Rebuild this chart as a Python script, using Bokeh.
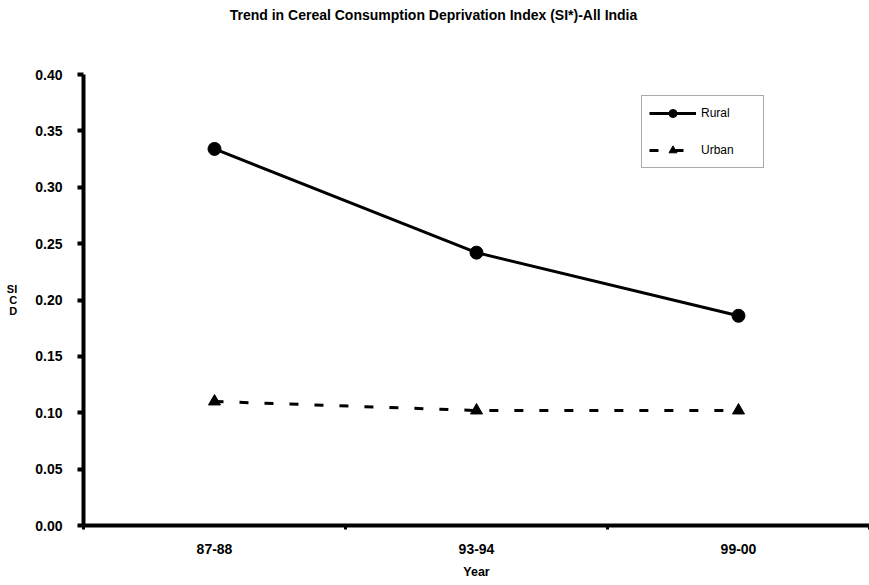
from bokeh.plotting import figure
from bokeh.layouts import column
from bokeh.models import (FixedTicker, Range1d, Legend, LegendItem, ColumnDataSource, Label)
from bokeh.embed import file_html
from bokeh.resources import INLINE

categories = ["87-88", "93-94", "99-00"]
rural = [0.334, 0.242, 0.186]
urban = [0.110, 0.102, 0.102]
y_ticks = [0.00, 0.05, 0.10, 0.15, 0.20, 0.25, 0.30, 0.35, 0.40]
title_text = "Trend in Cereal Consumption Deprivation Index (SI*)-All India"

x_pos = [i + 0.5 for i in range(len(categories))]
FONT = "Liberation Sans"
TOP_H = 64

# title strip (its frame is aligned with the main plot's frame: 83..869 px)
t = figure(width=869, height=TOP_H, output_backend="svg", toolbar_location=None,
           x_range=Range1d(83, 869), y_range=Range1d(0, TOP_H),
           min_border_left=83, min_border_right=0, min_border_top=0, min_border_bottom=0)
t.title = None
t.axis.visible = False
t.grid.visible = False
t.outline_line_color = None
t.add_layout(Label(x=433, y=TOP_H - 14, text=title_text, text_font=FONT,
                   text_font_style="bold", text_font_size="14px", text_color="black",
                   text_align="center", text_baseline="middle"))

p = figure(width=869, height=585 - TOP_H, output_backend="svg", toolbar_location=None,
           x_range=Range1d(0, 3), y_range=Range1d(0, 0.40),
           min_border_left=83, min_border_right=0, min_border_top=74 - TOP_H, min_border_bottom=60)
p.title = None
p.outline_line_color = None
p.xgrid.visible = False
p.ygrid.visible = False

src_r = ColumnDataSource(dict(x=x_pos, y=rural))
src_u = ColumnDataSource(dict(x=x_pos, y=urban))
lr = p.line("x", "y", source=src_r, line_color="black", line_width=3)
cr = p.scatter("x", "y", source=src_r, marker="circle", size=13, fill_color="black", line_color="black")
lu = p.line("x", "y", source=src_u, line_color="black", line_width=3, line_dash="9 16")
tu = p.scatter("x", "y", source=src_u, marker="triangle", size=12, fill_color="black", line_color="black")

# axes
xa = p.xaxis[0]
xa.ticker = FixedTicker(ticks=x_pos, minor_ticks=[0, 1, 2, 3])
xa.major_label_overrides = {x: c for x, c in zip(x_pos, categories)}
xa.major_tick_line_color = None
xa.minor_tick_line_color = "black"
xa.minor_tick_line_width = 3
xa.minor_tick_out = 4
xa.minor_tick_in = 0
xa.axis_line_width = 4
xa.axis_line_color = "black"
xa.major_label_text_font = FONT
xa.major_label_text_font_style = "bold"
xa.major_label_text_font_size = "14px"
xa.major_label_text_color = "black"
xa.major_label_standoff = 12
xa.axis_label = "Year"
xa.axis_label_text_font = FONT
xa.axis_label_text_font_style = "bold"
xa.axis_label_text_font_size = "12.5px"
xa.axis_label_text_color = "black"
xa.axis_label_standoff = 8

ya = p.yaxis[0]
ya.ticker = FixedTicker(ticks=y_ticks, minor_ticks=[])
ya.major_label_overrides = {t_: f"{t_:.2f}" for t_ in y_ticks}
ya.axis_line_width = 4
ya.axis_line_color = "black"
ya.major_tick_line_width = 4
ya.major_tick_line_color = "black"
ya.major_tick_out = 6
ya.major_tick_in = 0
ya.major_label_text_font = FONT
ya.major_label_text_font_style = "bold"
ya.major_label_text_font_size = "14px"
ya.major_label_text_color = "black"
ya.major_label_standoff = 15
ya.axis_label = "SI\nC\nD"
ya.axis_label_text_font = FONT
ya.axis_label_text_font_style = "bold"
ya.axis_label_text_font_size = "11px"
ya.axis_label_text_color = "black"
ya.axis_label_text_line_height = 0.9
ya.axis_label_standoff = 15
if "axis_label_orientation" in ya.properties():
    ya.axis_label_orientation = "horizontal"

legend = Legend(items=[LegendItem(label="Rural", renderers=[lr, cr]),
                       LegendItem(label="Urban", renderers=[lu, tu])],
                location=(558, 357))
legend.border_line_color = "#555555"
legend.border_line_width = 1
legend.label_text_font = FONT
legend.label_text_font_size = "12px"
legend.label_text_color = "black"
legend.glyph_width = 47
legend.glyph_height = 20
legend.label_width = 55
legend.spacing = 17
legend.padding = 7
legend.margin = 0
legend.label_standoff = 5
p.add_layout(legend)

layout = column(t, p, spacing=0)
open("out.html", "w").write(file_html(layout, INLINE))
